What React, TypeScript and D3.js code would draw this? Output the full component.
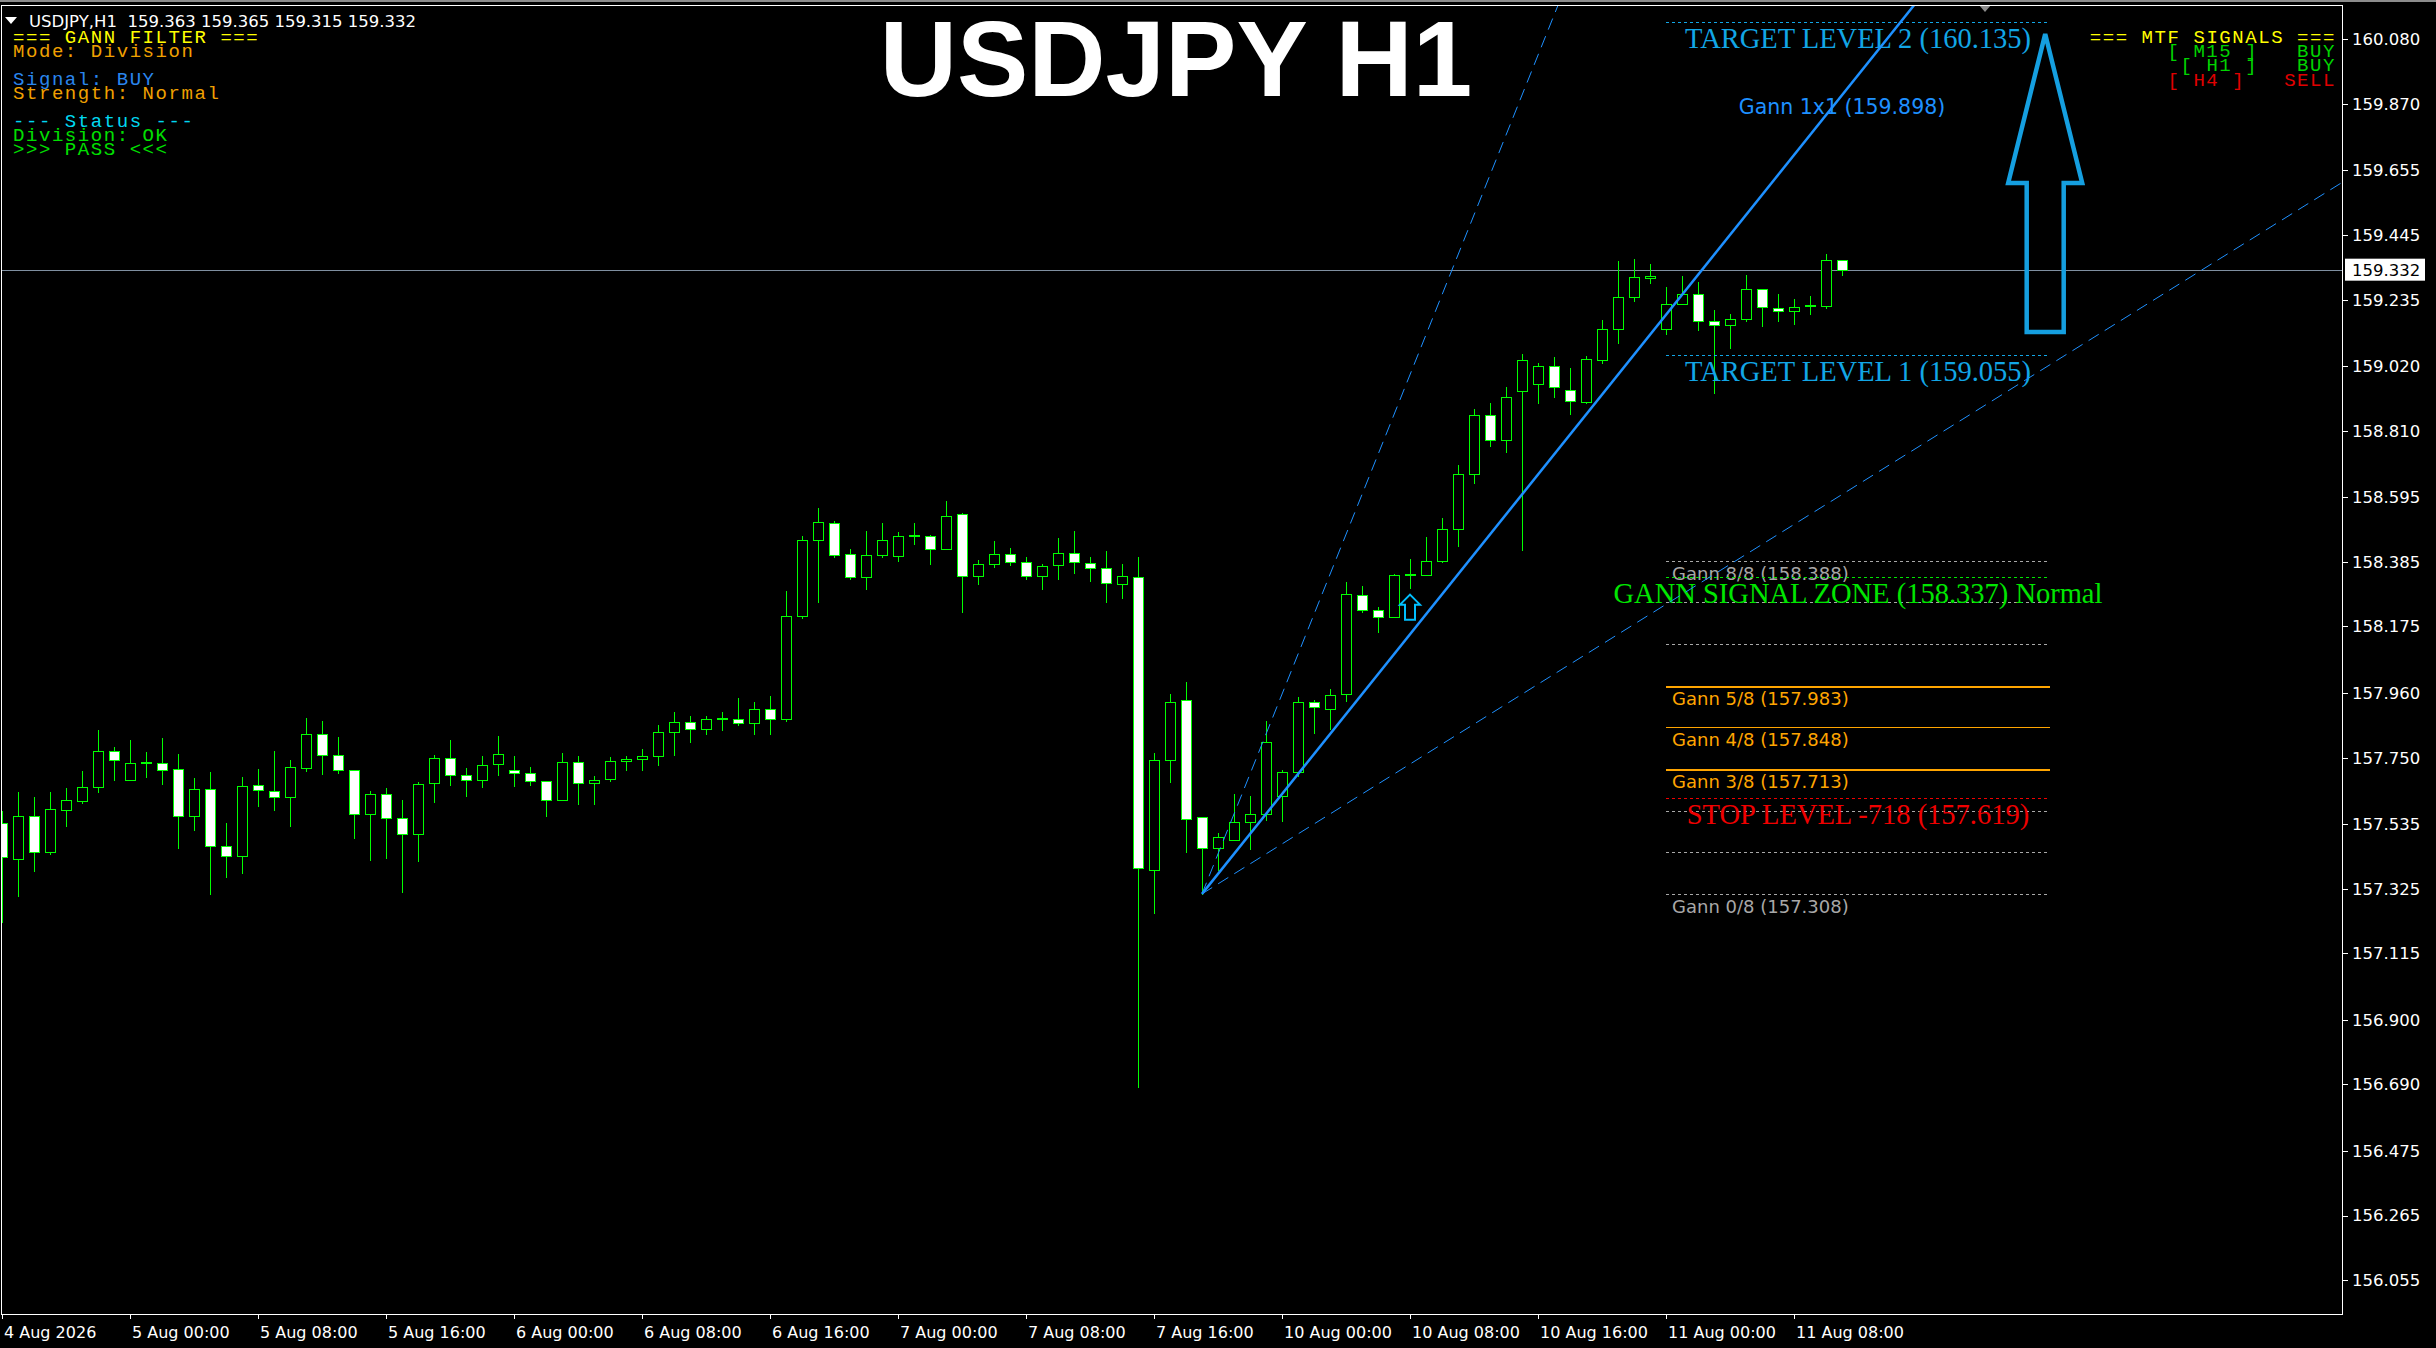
import React from 'react';
import * as d3 from 'd3';

// H1 bars from 4 Aug 16:00 to 11 Aug 11:00 (index 0..115)
const opens = [
  157.537, 157.422, 157.559, 157.445, 157.581, 157.610, 157.656, 157.770, 157.678, 157.733,
  157.734, 157.712, 157.562, 157.647, 157.462, 157.430, 157.660, 157.640, 157.621, 157.717,
  157.825, 157.757, 157.709, 157.568, 157.631, 157.553, 157.501, 157.666, 157.747, 157.692,
  157.676, 157.728, 157.709, 157.699, 157.673, 157.614, 157.735, 157.669, 157.679, 157.738,
  157.745, 157.754, 157.832, 157.865, 157.844, 157.875, 157.876, 157.861, 157.907, 157.874,
  158.208, 158.455, 158.510, 158.409, 158.334, 158.408, 158.405, 158.468, 158.468, 158.425,
  158.539, 158.338, 158.377, 158.409, 158.383, 158.338, 158.373, 158.412, 158.380, 158.365,
  158.313, 158.334, 157.385, 157.741, 157.936, 157.556, 157.456, 157.484, 157.541, 157.567,
  157.624, 157.702, 157.929, 157.908, 157.955, 158.276, 158.230, 158.207, 158.343, 158.343,
  158.388, 158.490, 158.670, 158.860, 158.780, 158.940, 158.960, 159.020, 158.943, 158.904,
  159.038, 159.139, 159.243, 159.304, 159.139, 159.220, 159.252, 159.164, 159.153, 159.173,
  159.268, 159.209, 159.198, 159.215, 159.213, 159.363,
];
const highs = [
  157.577, 157.638, 157.622, 157.638, 157.651, 157.706, 157.839, 157.784, 157.807, 157.768,
  157.813, 157.762, 157.684, 157.703, 157.538, 157.687, 157.713, 157.771, 157.742, 157.878,
  157.868, 157.817, 157.709, 157.642, 157.651, 157.612, 157.671, 157.757, 157.807, 157.716,
  157.755, 157.820, 157.755, 157.720, 157.673, 157.765, 157.755, 157.691, 157.752, 157.755,
  157.778, 157.856, 157.898, 157.885, 157.885, 157.898, 157.944, 157.931, 157.950, 158.290,
  158.469, 158.560, 158.517, 158.427, 158.485, 158.511, 158.482, 158.511, 158.471, 158.582,
  158.543, 158.391, 158.453, 158.431, 158.401, 158.378, 158.463, 158.486, 158.401, 158.420,
  158.378, 158.401, 157.765, 157.957, 157.995, 157.556, 157.506, 157.633, 157.625, 157.868,
  157.710, 157.946, 157.937, 157.972, 158.319, 158.306, 158.237, 158.345, 158.394, 158.465,
  158.527, 158.700, 158.880, 158.900, 158.950, 159.060, 159.030, 159.050, 159.014, 159.052,
  159.169, 159.360, 159.367, 159.349, 159.276, 159.312, 159.293, 159.201, 159.188, 159.315,
  159.268, 159.252, 159.236, 159.246, 159.383, 159.365,
];
const lows = [
  157.218, 157.302, 157.382, 157.438, 157.528, 157.604, 157.639, 157.678, 157.678, 157.687,
  157.664, 157.457, 157.515, 157.308, 157.363, 157.377, 157.594, 157.581, 157.529, 157.707,
  157.698, 157.701, 157.490, 157.419, 157.425, 157.315, 157.416, 157.607, 157.662, 157.626,
  157.656, 157.694, 157.659, 157.661, 157.562, 157.614, 157.601, 157.598, 157.675, 157.711,
  157.711, 157.726, 157.757, 157.802, 157.825, 157.838, 157.856, 157.825, 157.825, 157.870,
  158.204, 158.256, 158.399, 158.329, 158.297, 158.399, 158.388, 158.441, 158.379, 158.425,
  158.223, 158.314, 158.369, 158.376, 158.329, 158.295, 158.330, 158.347, 158.324, 158.254,
  158.269, 156.682, 157.245, 157.672, 157.445, 157.308, 157.385, 157.484, 157.455, 157.546,
  157.543, 157.690, 157.831, 157.842, 157.933, 158.223, 158.158, 158.205, 158.301, 158.343,
  158.384, 158.437, 158.640, 158.760, 158.740, 158.423, 158.900, 158.920, 158.863, 158.899,
  159.031, 159.094, 159.229, 159.288, 159.122, 159.220, 159.136, 158.931, 159.077, 159.166,
  159.151, 159.167, 159.157, 159.188, 159.207, 159.315,
];
const closes = [
  157.426, 157.559, 157.445, 157.583, 157.611, 157.653, 157.770, 157.743, 157.734, 157.733,
  157.711, 157.562, 157.647, 157.462, 157.430, 157.657, 157.644, 157.623, 157.721, 157.825,
  157.757, 157.709, 157.566, 157.631, 157.553, 157.501, 157.663, 157.747, 157.692, 157.676,
  157.725, 157.760, 157.699, 157.675, 157.614, 157.735, 157.669, 157.677, 157.738, 157.745,
  157.754, 157.832, 157.865, 157.842, 157.874, 157.875, 157.861, 157.907, 157.874, 158.208,
  158.455, 158.513, 158.406, 158.334, 158.406, 158.455, 158.468, 158.468, 158.425, 158.533,
  158.338, 158.377, 158.409, 158.383, 158.338, 158.371, 158.412, 158.383, 158.365, 158.315,
  158.338, 157.392, 157.741, 157.929, 157.552, 157.456, 157.492, 157.541, 157.567, 157.801,
  157.702, 157.929, 157.913, 157.952, 158.279, 158.230, 158.205, 158.341, 158.343, 158.386,
  158.490, 158.670, 158.860, 158.780, 158.920, 159.040, 159.020, 158.950, 158.905, 159.042,
  159.141, 159.243, 159.308, 159.311, 159.220, 159.252, 159.166, 159.153, 159.173, 159.268,
  159.211, 159.198, 159.212, 159.215, 159.365, 159.332,
];

const timeLabels = [
  '4 Aug 2026', '5 Aug 00:00', '5 Aug 08:00', '5 Aug 16:00', '6 Aug 00:00', '6 Aug 08:00',
  '6 Aug 16:00', '7 Aug 00:00', '7 Aug 08:00', '7 Aug 16:00', '10 Aug 00:00', '10 Aug 08:00',
  '10 Aug 16:00', '11 Aug 00:00', '11 Aug 08:00',
];
const timeLabelBars = [0, 8, 16, 24, 32, 40, 48, 56, 64, 72, 80, 88, 96, 104, 112];

const priceTicks = [
  160.08, 159.87, 159.655, 159.445, 159.235, 159.02, 158.81, 158.595, 158.385, 158.175,
  157.96, 157.75, 157.535, 157.325, 157.115, 156.9, 156.69, 156.475, 156.265, 156.055,
];

const lastPrice = 159.332;
const headerText = 'USDJPY,H1  159.363 159.365 159.315 159.332';

// gann fan
const fanBar = 75;
const fanPrice = 157.308;
const fanSlope = 0.06475; // price per bar for 1x1
const fanLabel = 'Gann 1x1 (159.898)';
const fanLabelBar = 115;

// gann octave levels (drawn from bar 104 to bar 128)
const levelFrom = 104;
const levelTo = 128;
const octavePrices = [158.388, 158.253, 158.118, 157.983, 157.848, 157.713, 157.578, 157.443, 157.308];
const octaveLabels = ['Gann 8/8 (158.388)', '', '', 'Gann 5/8 (157.983)', 'Gann 4/8 (157.848)', 'Gann 3/8 (157.713)', '', '', 'Gann 0/8 (157.308)'];
const octaveStyle = ['dot', 'dot', 'dot', 'thick', 'thin', 'thick', 'dot', 'dot', 'dot'];

const zonePrices = [160.135, 159.055, 158.337, 157.619];
const zoneLabels = ['TARGET LEVEL 2 (160.135)', 'TARGET LEVEL 1 (159.055)', 'GANN SIGNAL ZONE (158.337) Normal', 'STOP LEVEL -718 (157.619)'];
const zoneColors = ['#12a6e6', '#12a6e6', '#00e600', '#f00000'];

const filterLines = ['=== GANN FILTER ===', 'Mode: Division', '', 'Signal: BUY', 'Strength: Normal', '', '--- Status ---', 'Division: OK', '>>> PASS <<<'];
const filterColors = ['#ffff00', '#f0a000', '', '#2a86ee', '#f0a000', '', '#00d8f0', '#00e000', '#00e000'];

const mtfLines = ['=== MTF SIGNALS ===', '[ M15 ]   BUY', '[ H1 ]   BUY', '[ H4 ]   SELL'];
const mtfColors = ['#ffff00', '#00d400', '#00d400', '#e00000'];

// signal arrows
const bigArrow = { bar: 127.7, tip: 160.096, neck: 159.613, base: 159.13 };
const smallArrowBar = 88;

const W = 2436;
const H = 1348;
const plot = { left: 1, top: 5, right: 2343, bottom: 1315 };

const x = d3.scaleLinear().domain([0, 115]).range([2, 1842]);
const y = d3.scaleLinear().domain([156.055, 160.08]).range([1280.3, 39]);

const App: React.FC = () => {
  const r = (v: number) => Math.round(v) + 0.5;
  const bars = d3.range(opens.length);
  const fanY = (bar: number, mult: number) => y(fanPrice + fanSlope * mult * (bar - fanBar));
  const xL = x(levelFrom);
  const xR = x(levelTo);
  const xMid = (xL + xR) / 2;

  // big arrow outline
  const bx = x(bigArrow.bar);
  const headHalf = 37;
  const shaftHalf = 18.5;
  const arrowPath = d3.path();
  arrowPath.moveTo(bx, y(bigArrow.tip));
  arrowPath.lineTo(bx + headHalf, y(bigArrow.neck));
  arrowPath.lineTo(bx + shaftHalf, y(bigArrow.neck));
  arrowPath.lineTo(bx + shaftHalf, y(bigArrow.base));
  arrowPath.lineTo(bx - shaftHalf, y(bigArrow.base));
  arrowPath.lineTo(bx - shaftHalf, y(bigArrow.neck));
  arrowPath.lineTo(bx - headHalf, y(bigArrow.neck));
  arrowPath.closePath();

  const sx = x(smallArrowBar);
  const sy = y(lows[smallArrowBar]) + 7;
  const smallPath = d3.path();
  smallPath.moveTo(sx, sy);
  smallPath.lineTo(sx + 10, sy + 10);
  smallPath.lineTo(sx + 5, sy + 10);
  smallPath.lineTo(sx + 5, sy + 25);
  smallPath.lineTo(sx - 5, sy + 25);
  smallPath.lineTo(sx - 5, sy + 10);
  smallPath.lineTo(sx - 10, sy + 10);
  smallPath.closePath();

  const sans = '"DejaVu Sans", Verdana, sans-serif';
  const serif = '"Liberation Serif", "Times New Roman", serif';
  const mono = '"Liberation Mono", "Courier New", monospace';
  const monoSize = 19;
  const monoSpacing = 1.56;

  return (
    <svg width={W} height={H} style={{ position: 'fixed', left: 0, top: 0, display: 'block' }}>
      <rect width={W} height={H} fill="#000" />
      <rect x={0} y={0} width={W} height={2} fill="#8c8c8c" />
      <defs>
        <clipPath id="plotClip">
          <rect x={plot.left} y={plot.top} width={plot.right - plot.left} height={plot.bottom - plot.top} />
        </clipPath>
      </defs>

      <g clipPath="url(#plotClip)">
        {/* bid line */}
        <line x1={plot.left} x2={plot.right} y1={r(y(lastPrice))} y2={r(y(lastPrice))} stroke="#7f8fa0" strokeWidth={1} />

        {/* candles */}
        <g shapeRendering="crispEdges">
          {bars.map(i => {
            const cx = Math.round(x(i));
            const o = opens[i];
            const c = closes[i];
            const top = Math.round(y(Math.max(o, c)));
            const bot = Math.round(y(Math.min(o, c)));
            const bull = c > o;
            return (
              <g key={i}>
                <line x1={cx + 0.5} x2={cx + 0.5} y1={Math.round(y(highs[i]))} y2={Math.round(y(lows[i])) + 1} stroke="#00ff00" strokeWidth={1} />
                {bot - top < 1 ? (
                  <rect x={cx - 5} y={top - 1} width={11} height={2} fill="#00ff00" />
                ) : (
                  <rect x={cx - 4.5} y={top + 0.5} width={10} height={bot - top} fill={bull ? '#000' : '#fff'} stroke="#00ff00" strokeWidth={1} />
                )}
              </g>
            );
          })}
        </g>

        {/* octave levels */}
        {octavePrices.map((p, i) => {
          const yy = r(y(p));
          const st = octaveStyle[i];
          return (
            <g key={'oct' + i}>
              {st === 'dot' ? (
                <line x1={xL} x2={xR} y1={yy} y2={yy} stroke="#a8a8a8" strokeWidth={1} strokeDasharray="3,3" />
              ) : (
                <line x1={xL} x2={xR} y1={st === 'thick' ? yy + 0.5 : yy} y2={st === 'thick' ? yy + 0.5 : yy} stroke="#ffa500" strokeWidth={st === 'thick' ? 2 : 1} />
              )}
              {octaveLabels[i] && (
                <text x={xL + 6} y={yy + 18.5} fill={st === 'dot' ? '#a8a8a8' : '#ffa500'} fontFamily={sans} fontSize={18}>
                  {octaveLabels[i]}
                </text>
              )}
            </g>
          );
        })}

        {/* target / zone / stop levels */}
        {zonePrices.map((p, i) => {
          const yy = r(y(p));
          return (
            <g key={'zone' + i}>
              <line x1={xL} x2={xR} y1={yy} y2={yy} stroke={zoneColors[i]} strokeWidth={1} strokeDasharray="3,3" />
              <text x={xMid} y={yy + 25} fill={zoneColors[i]} fontFamily={serif} fontSize={28.5} textAnchor="middle">
                {zoneLabels[i]}
              </text>
            </g>
          );
        })}

        {/* gann fan */}
        <line x1={x(fanBar)} y1={fanY(fanBar, 1)} x2={x(200)} y2={fanY(200, 1)} stroke="#1e90ff" strokeWidth={2.5} />
        <line x1={x(fanBar)} y1={fanY(fanBar, 2)} x2={x(200)} y2={fanY(200, 2)} stroke="#1e90ff" strokeWidth={1} strokeDasharray="12,7" />
        <line x1={x(fanBar)} y1={fanY(fanBar, 0.5)} x2={x(200)} y2={fanY(200, 0.5)} stroke="#1e90ff" strokeWidth={1} strokeDasharray="12,7" />
        <text x={x(fanLabelBar)} y={fanY(fanLabelBar, 1) + 19} fill="#1e90ff" fontFamily={sans} fontSize={20.5} textAnchor="middle">
          {fanLabel}
        </text>

        {/* arrows */}
        <path d={smallPath.toString()} fill="none" stroke="#00bfff" strokeWidth={2} />
        <path d={arrowPath.toString()} fill="none" stroke="#159fe0" strokeWidth={4.5} strokeLinejoin="miter" />

        {/* chart shift marker */}
        <path d="M1979,5 L1991,5 L1985,12 Z" fill="#8c8c8c" />
      </g>

      {/* frame */}
      <rect x={plot.left + 0.5} y={plot.top + 0.5} width={plot.right - plot.left - 1} height={plot.bottom - plot.top - 1} fill="none" stroke="#ffffff" strokeWidth={1} shapeRendering="crispEdges" />

      {/* price axis */}
      {priceTicks.map(v => (
        <g key={'pt' + v}>
          <line x1={plot.right} x2={plot.right + 5} y1={r(y(v))} y2={r(y(v))} stroke="#fff" strokeWidth={1} />
          <text x={plot.right + 9} y={y(v)} dy="0.36em" fill="#fff" fontFamily={sans} fontSize={16.5}>
            {v.toFixed(3)}
          </text>
        </g>
      ))}
      <rect x={plot.right + 2} y={y(lastPrice) - 11} width={80} height={22} fill="#fff" />
      <text x={plot.right + 9} y={y(lastPrice)} dy="0.36em" fill="#000" fontFamily={sans} fontSize={16.5}>
        {lastPrice.toFixed(3)}
      </text>

      {/* time axis */}
      {timeLabelBars.map((b, i) => (
        <g key={'tl' + b}>
          <line x1={Math.round(x(b)) + 0.5} x2={Math.round(x(b)) + 0.5} y1={plot.bottom} y2={plot.bottom + 4} stroke="#fff" strokeWidth={1} />
          <text x={x(b) + 2} y={plot.bottom + 23} fill="#fff" fontFamily={sans} fontSize={16}>
            {timeLabels[i]}
          </text>
        </g>
      ))}

      {/* header */}
      <path d="M5,17 L17,17 L11,24 Z" fill="#fff" />
      <text x={29} y={27} fill="#fff" fontFamily={sans} fontSize={16.5} style={{ whiteSpace: 'pre' }}>
        {headerText}
      </text>

      {/* filter panel */}
      {filterLines.map((t, i) => t && (
        <text key={'fl' + i} x={13} y={43 + i * 14} fill={filterColors[i]} fontFamily={mono} fontSize={monoSize} letterSpacing={monoSpacing} style={{ whiteSpace: 'pre' }}>
          {t}
        </text>
      ))}

      {/* MTF panel */}
      {mtfLines.map((t, i) => (
        <text key={'mtf' + i} x={2336} y={43 + i * 14.2} fill={mtfColors[i]} fontFamily={mono} fontSize={monoSize} letterSpacing={monoSpacing} textAnchor="end" style={{ whiteSpace: 'pre' }}>
          {t}
        </text>
      ))}

      {/* title */}
      <text x={1176} y={96} fill="#fff" fontFamily='"Liberation Sans", Arial, sans-serif' fontWeight="bold" fontSize={107} textAnchor="middle">
        USDJPY H1
      </text>
    </svg>
  );
};

export default App;
